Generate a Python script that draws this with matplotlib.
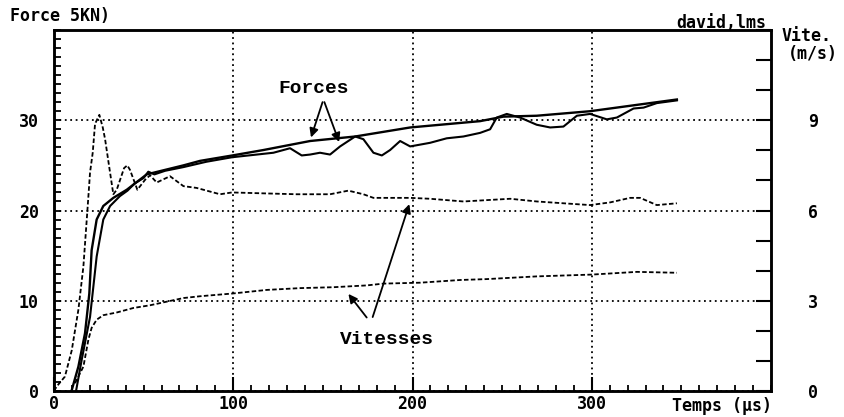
import matplotlib

matplotlib.use("Agg")
import matplotlib.pyplot as plt
from matplotlib.ticker import MultipleLocator

# ---- data (time in us, force in "5KN" units, speed in m/s) ----
t_force_a = [9.9, 13.6, 17.3, 19.7, 21.0, 23.8, 27.5, 33.1, 40.6, 51.7, 72.2, 81.5,
             99.5, 116.8, 142.9, 168.0, 198.7, 237.7, 250.7, 269.3, 299.0, 325.0, 347.5]
force_a = [0.1, 2.7, 6.4, 10.8, 15.6, 19.0, 20.5, 21.4, 22.3, 24.0, 25.0, 25.5,
           26.1, 26.7, 27.7, 28.2, 29.2, 29.9, 30.4, 30.5, 31.0, 31.7, 32.3]

t_force_b = [12.3, 15.4, 20.1, 23.8, 27.5, 31.3, 36.8, 41.0, 45.0, 50.0, 52.6, 56.0,
             62.0, 72.0, 85.0, 99.3, 122.4, 131.7, 138.2, 142.9, 148.4, 154.0, 159.6,
             168.0, 172.6, 178.2, 182.9, 187.5, 193.1, 198.7, 209.8, 219.1, 228.4, 237.7,
             243.3, 247.0, 252.6, 260.0, 269.3, 276.8, 284.2, 291.7, 299.1, 308.4, 314.0,
             323.3, 328.9, 336.3, 347.5]
force_b = [0.0, 3.4, 8.2, 14.9, 19.0, 20.5, 21.6, 22.2, 23.0, 23.6, 24.3, 24.0,
           24.4, 24.8, 25.4, 25.9, 26.4, 26.9, 26.1, 26.2, 26.4, 26.2, 27.1,
           28.2, 27.9, 26.4, 26.1, 26.7, 27.7, 27.1, 27.5, 28.0, 28.2, 28.6,
           29.0, 30.3, 30.7, 30.3, 29.5, 29.2, 29.3, 30.5, 30.7, 30.1, 30.3,
           31.3, 31.4, 31.9, 32.2]

t_speed_1 = [0.0, 1.5, 6.1, 9.9, 13.6, 16.4, 18.2, 19.2, 20.1, 21.6, 22.9, 25.3, 27.2,
             28.5, 30.9, 33.1, 35.0, 39.1, 40.9, 42.4, 46.5, 50.8, 53.6, 57.3, 64.7,
             72.2, 79.6, 92.6, 99.3, 116.8, 135.4, 154.0, 164.2, 172.6, 178.2, 198.7,
             209.8, 228.4, 254.5, 269.4, 284.2, 299.1, 310.3, 321.4, 327.0, 336.3, 347.5]
speed_1 = [0.0, 0.15, 0.48, 1.35, 2.70, 4.14, 5.64, 6.48, 7.26, 7.92, 8.88, 9.18, 8.76,
           8.37, 7.41, 6.54, 6.69, 7.41, 7.50, 7.35, 6.69, 7.02, 7.17, 6.93, 7.14,
           6.81, 6.75, 6.54, 6.60, 6.57, 6.54, 6.54, 6.66, 6.54, 6.42, 6.42,
           6.39, 6.30, 6.39, 6.30, 6.24, 6.18, 6.27, 6.42, 6.42, 6.18, 6.24]

t_speed_2 = [11.7, 16.4, 19.2, 21.0, 23.8, 27.5, 35.0, 44.3, 53.6, 62.9, 72.2, 81.5,
             99.5, 118.7, 137.3, 155.9, 174.5, 183.8, 204.2, 226.6, 241.5, 269.4,
             300.1, 325.2, 347.5]
speed_2 = [0.26, 0.81, 1.71, 2.10, 2.37, 2.52, 2.61, 2.76, 2.85, 2.97, 3.09, 3.15,
           3.24, 3.36, 3.42, 3.45, 3.51, 3.57, 3.60, 3.69, 3.72, 3.81,
           3.87, 3.96, 3.93]

force_ticks = [0, 10, 20, 30]
time_ticks = [0, 100, 200, 300]
speed_ticks = [0, 3, 6, 9]

# annotation anchors (data units)
forces_label = (145, 33.5)
forces_apex = (150.3, 32.3)
forces_tips = [(142.9, 27.8), (159.6, 27.3)]
speeds_label = (186, 1.71)
speeds_arrows = [((175.4, 2.37), (163.3, 3.30)), ((177.3, 2.37), (198.7, 6.30))]

mono = "DejaVu Sans Mono"
courier = "Liberation Mono"

fig = plt.figure(figsize=(8.44, 4.17), dpi=100)
ax = fig.add_axes([54 / 844, 26 / 417, 717 / 844, 361 / 417])
ax2 = ax.twinx()

ax.set_xlim(0, 400)
ax.set_ylim(0, 40)
ax2.set_ylim(0, 12)

ax.plot(t_force_a, force_a, color="k", lw=1.7, zorder=3)
ax.plot(t_force_b, force_b, color="k", lw=1.5, zorder=3)
ax2.plot(t_speed_1, speed_1, color="k", lw=1.3, ls=(0, (2.5, 1.3)))
ax2.plot(t_speed_2, speed_2, color="k", lw=1.3, ls=(0, (2.5, 1.3)))

# frame / ticks
for a in (ax, ax2):
    for sp in a.spines.values():
        sp.set_linewidth(1.8)
ax.set_xticks(time_ticks, [str(v) for v in time_ticks])
ax.set_yticks(force_ticks, [str(v) for v in force_ticks])
ax.xaxis.set_minor_locator(MultipleLocator(10))
ax.yaxis.set_minor_locator(MultipleLocator(1))
ax.tick_params(axis="x", which="major", direction="in", length=10, width=1.5, pad=3)
ax.tick_params(axis="x", which="minor", direction="in", length=4, width=1.3)
ax.tick_params(axis="y", which="both", direction="in", length=5, width=1.3, pad=11)
ax.tick_params(axis="x", top=False, which="both")
ax2.set_yticks(speed_ticks, [str(v) for v in speed_ticks])
ax2.yaxis.set_minor_locator(MultipleLocator(1))
ax2.tick_params(axis="y", which="both", direction="in", length=11, width=1.5, pad=30)
for lab in ax.get_xticklabels() + ax.get_yticklabels() + ax2.get_yticklabels():
    lab.set_fontfamily(mono)
    lab.set_fontweight("bold")
    lab.set_fontsize(12)
for lab in ax2.get_yticklabels():
    lab.set_horizontalalignment("center")

ax.grid(True, which="major", color="k", lw=1.3, ls=(0, (1, 2)))
ax.set_axisbelow(True)

# annotations
ax.text(*forces_label, "Forces", family=courier, weight="bold", fontsize=14,
        ha="center", va="center")
for tip in forces_tips:
    ax.annotate("", xy=tip, xytext=forces_apex,
                arrowprops=dict(arrowstyle="-|>", color="k", lw=1.3, mutation_scale=13))
ax2.text(*speeds_label, "Vitesses", family=courier, weight="bold", fontsize=14,
         ha="center", va="center")
for start, tip in speeds_arrows:
    ax2.annotate("", xy=tip, xytext=start,
                 arrowprops=dict(arrowstyle="-|>", color="k", lw=1.3, mutation_scale=13))

# captions
fig.text(10 / 844, 1 - 16 / 417, "Force 5KN)", family=mono, weight="bold",
         fontsize=12, ha="left", va="center")
fig.text(766 / 844, 1 - 23 / 417, "david,lms", family=mono, weight="bold",
         fontsize=12, ha="right", va="center")
fig.text(807 / 844, 1 - 36 / 417, "Vite.", family=mono, weight="bold",
         fontsize=12, ha="center", va="center")
fig.text(813 / 844, 1 - 54 / 417, "(m/s)", family=mono, weight="bold",
         fontsize=12, ha="center", va="center")
fig.text(772 / 844, 1 - 406 / 417, "Temps (µs)", family=mono, weight="bold",
         fontsize=12, ha="right", va="center")

fig.savefig("out.png", dpi=100, facecolor="white")
